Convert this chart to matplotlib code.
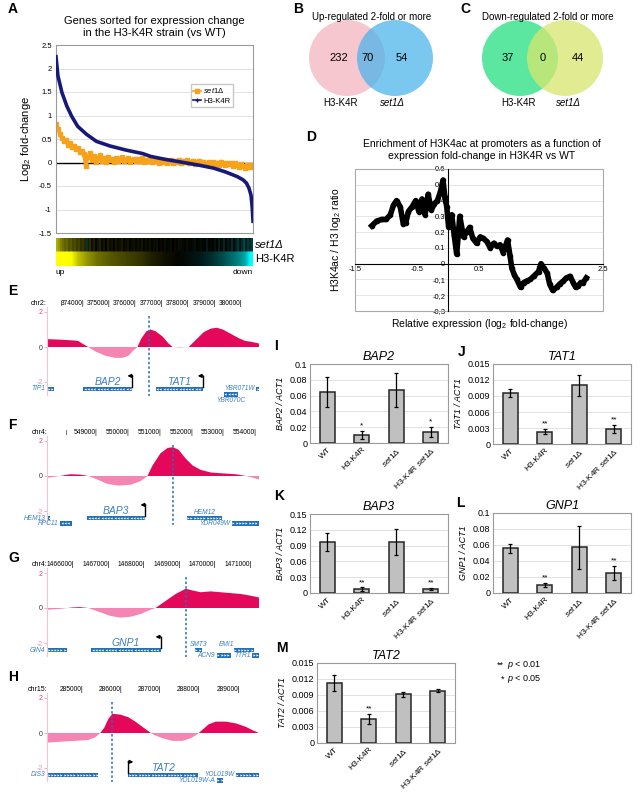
import matplotlib
matplotlib.use("Agg")
import matplotlib.pyplot as plt
import numpy as np
from matplotlib.colors import LinearSegmentedColormap, TwoSlopeNorm
from matplotlib.patches import Circle, Rectangle
from matplotlib.lines import Line2D

plt.rcParams["font.family"] = ["Liberation Sans", "DejaVu Sans"]
plt.rcParams["mathtext.fontset"] = "custom"
plt.rcParams["mathtext.rm"] = "Liberation Sans"
plt.rcParams["mathtext.it"] = "Liberation Sans:italic"
plt.rcParams["mathtext.bf"] = "Liberation Sans:bold"

W, H = 641, 794

# ---- A: sorted fold changes ----
h3_rank = [0.0, 0.01, 0.03, 0.055, 0.08, 0.11, 0.155, 0.205, 0.275, 0.36, 0.44, 0.48,
           0.55, 0.62, 0.73, 0.80, 0.86, 0.92, 0.95, 0.967, 0.98, 0.99, 0.996, 1.0]
h3_fc = [2.25, 1.84, 1.49, 1.2, 0.98, 0.77, 0.6, 0.45, 0.35, 0.26, 0.19, 0.13,
         0.07, 0.02, -0.06, -0.12, -0.2, -0.3, -0.37, -0.44, -0.55, -0.7, -0.95, -1.25]
set1_fc = [0.82, 0.72, 0.60, 0.52, 0.45, 0.48, 0.38, 0.42, 0.33, 0.36,
           0.28, 0.31, 0.22, 0.25, 0.18, -0.08, 0.12, 0.20, 0.06, 0.14,
           0.02, 0.10, 0.15, 0.04, 0.09, 0.01, 0.12, 0.05, 0.08, 0.02,
           0.10, 0.04, 0.07, 0.12, 0.03, 0.06, 0.09, 0.02, 0.05, 0.08,
           0.03, 0.07, 0.04, 0.09, 0.02, 0.06, 0.03, 0.08, 0.01, 0.05,
           0.03, 0.07, 0.00, 0.04, 0.02, 0.06, -0.01, 0.03, 0.05, 0.00,
           0.04, 0.02, 0.06, -0.02, 0.03, 0.01, 0.05, -0.01, 0.02, 0.04,
           -0.03, 0.01, 0.03, -0.02, 0.02, 0.00, -0.04, 0.02, -0.01, 0.01,
           -0.03, 0.00, -0.05, 0.02, -0.02, -0.06, 0.00, -0.04, -0.02, -0.07,
           -0.01, -0.05, -0.09, -0.03, -0.07, -0.11, -0.05, -0.09, -0.06, -0.10]

# ---- B, C: Venn counts ----
up_counts = [232, 70, 54]
down_counts = [37, 0, 44]

# ---- D: H3K4ac vs expression ----
d_x = [-1.23, -1.15, -1.07, -1.00, -0.93, -0.88, -0.83, -0.77, -0.72, -0.68, -0.64, -0.58,
       -0.52, -0.47, -0.42, -0.37, -0.32, -0.27, -0.22, -0.17, -0.12, -0.08, -0.05, -0.02,
       0.01, 0.06, 0.10, 0.14, 0.19, 0.25, 0.30, 0.35, 0.40, 0.46, 0.52, 0.57, 0.63, 0.68,
       0.74, 0.79, 0.84, 0.89, 0.96, 1.00, 1.03, 1.07, 1.11, 1.17, 1.22, 1.27, 1.33, 1.38,
       1.46, 1.50, 1.55, 1.60, 1.64, 1.69, 1.75, 1.80, 1.86, 1.91, 1.97, 2.02, 2.06, 2.10,
       2.14, 2.18, 2.23]
d_y = [0.24, 0.27, 0.28, 0.28, 0.31, 0.37, 0.40, 0.36, 0.25, 0.26, 0.33, 0.36,
       0.40, 0.33, 0.41, 0.31, 0.44, 0.34, 0.38, 0.40, 0.46, 0.53, 0.42, 0.36,
       0.23, 0.31, 0.18, 0.06, 0.30, 0.17, 0.20, 0.23, 0.16, 0.13, 0.17, 0.16, 0.14, 0.10,
       0.13, 0.11, 0.12, 0.07, 0.15, 0.05, -0.03, -0.07, -0.10, -0.15, -0.12, -0.11, -0.10, -0.08,
       -0.05, 0.00, -0.03, -0.06, -0.13, -0.17, -0.15, -0.13, -0.11, -0.09, -0.08, -0.12, -0.15, -0.14,
       -0.12, -0.12, -0.09]
d_yticklabels = ["-0,3", "-0,2", "-0,1", "0", "0.1", "0.2", "0.3", "0.4", "0.5", "0.6"]

# ---- E-H: genome browser tracks ----
e_pos = [372593, 373087, 373544, 373772, 373924, 374152, 374418, 374798, 375179, 375445,
         375673, 375863, 376015, 376167, 376357, 376510, 376700, 376966, 377194, 377346,
         377650, 377954, 378221, 378525, 378791, 379019, 379247, 379551, 379856, 380084,
         380312, 380616]
e_val = [0.45, 0.42, 0.38, 0.35, 0.2, 0.0, -0.25, -0.5, -0.62, -0.62,
         -0.5, -0.2, 0.0, 0.5, 0.9, 1.0, 0.9, 0.6, 0.2, 0.0,
         -0.03, 0.0, 0.4, 0.85, 1.05, 1.1, 1.0, 0.75, 0.5, 0.35,
         0.3, 0.2]
f_pos = [547428, 547836, 548151, 548465, 548717, 549000, 549314, 549660, 550038, 550352,
         550572, 550730, 550981, 551201, 551358, 551547, 551767, 551987, 552239, 552553,
         552931, 553340, 553654, 553874, 554063]
f_val = [-0.1, 0.0, 0.1, 0.08, 0.0, -0.2, -0.45, -0.55, -0.5, -0.3,
         0.0, 0.6, 1.3, 1.6, 1.65, 1.5, 1.0, 0.6, 0.35, 0.2,
         0.15, 0.1, 0.0, -0.1, -0.2]
g_pos = [1465237, 1465605, 1465944, 1466169, 1466395, 1466678, 1467017, 1467299, 1467582,
         1467864, 1468147, 1468288, 1468571, 1468853, 1469136, 1469333, 1469559, 1469842,
         1470124, 1470407, 1470689, 1470972, 1471198]
g_val = [-0.1, -0.05, 0.03, 0.05, 0.0, -0.2, -0.45, -0.55, -0.5,
         -0.35, -0.1, 0.0, 0.4, 0.8, 1.1, 1.0, 0.9, 0.95,
         0.9, 0.85, 0.8, 0.7, 0.6]
h_pos = [284077, 284410, 284795, 285128, 285308, 285436, 285538, 285641, 285744, 285949,
         286154, 286333, 286513, 286667, 286795, 287026, 287282, 287538, 287744, 287897,
         288051, 288205, 288385, 288641, 288897, 289154, 289333, 289487]
h_val = [-0.55, -0.5, -0.45, -0.4, -0.25, 0.0, 0.3, 0.8, 1.1, 1.05,
         0.9, 0.65, 0.35, 0.1, -0.1, -0.3, -0.45, -0.45, -0.3, -0.1,
         0.2, 0.5, 0.65, 0.65, 0.55, 0.35, 0.15, 0.0]

# genes: name, start, end, row, strand, label placement
e_genes = [("TIP1", 372593, 372860, 1, "+", "left"),
           ("BAP2", 373962, 375825, 1, "-", "main"),
           ("TAT1", 376700, 378487, 1, "-", "main"),
           ("YBR071W", 380502, 380616, 1, "+", "left"),
           ("YBR070C", 379285, 379817, 2, "-", "below")]
f_genes = [("HEM13", 547428, 547520, 1, "-", "left"),
           ("RPC11", 547836, 548214, 2, "-", "left"),
           ("BAP3", 548686, 550509, 1, "-", "main"),
           ("HEM12", 551799, 552899, 1, "+", "above"),
           ("YDR049W", 553214, 554063, 2, "+", "left")]
g_genes = [("GIN4", 1465237, 1465802, 1, "+", "left"),
           ("GNP1", 1466480, 1468429, 1, "-", "main"),
           ("SMT3", 1469390, 1469588, 1, "+", "above"),
           ("ACN9", 1470011, 1470407, 2, "+", "left"),
           ("EMI1", 1470492, 1471056, 1, "+", "aboveleft"),
           ("TTR1", 1471000, 1471198, 2, "+", "left")]
h_genes = [("DIS3", 284077, 285385, 1, "+", "left"),
           ("TAT2", 286154, 287923, 1, "+", "main"),
           ("YOL019W", 288897, 289487, 1, "+", "left"),
           ("YOL019W-A", 288410, 288564, 2, "+", "left")]

# ---- I-M: qPCR ----
strains = ["WT", "H3-K4R", r"$\mathit{set1Δ}$", r"H3-K4R $\mathit{set1Δ}$"]
bap2_mean = [0.065, 0.010, 0.067, 0.014]
bap2_err = [0.019, 0.005, 0.021, 0.006]
tat1_mean = [0.0096, 0.0023, 0.0110, 0.0028]
tat1_err = [0.0007, 0.0005, 0.0020, 0.0008]
bap3_mean = [0.097, 0.0076, 0.097, 0.0076]
bap3_err = [0.017, 0.003, 0.025, 0.002]
gnp1_mean = [0.056, 0.010, 0.057, 0.025]
gnp1_err = [0.0055, 0.003, 0.027, 0.009]
tat2_mean = [0.0113, 0.0045, 0.0091, 0.0098]
tat2_err = [0.0015, 0.0009, 0.0005, 0.0003]

fig = plt.figure(figsize=(W / 100, H / 100), dpi=100)


def add_ax(x0, y0, x1, y1):
    return fig.add_axes([x0 / W, 1 - y1 / H, (x1 - x0) / W, (y1 - y0) / H])


def ftext(x, y, s, **kw):
    fig.text(x / W, 1 - y / H, s, **kw)


for letter, (lx, ly) in {"A": (8, 9), "B": (293, 9), "C": (460, 9), "D": (306, 137),
                         "E": (8, 291), "F": (8, 425), "G": (8, 558), "H": (8, 677),
                         "I": (274, 346), "J": (458, 352), "K": (274, 496), "L": (456, 503),
                         "M": (276, 648)}.items():
    ftext(lx, ly, letter, fontsize=10, fontweight="bold", ha="left", va="center")

# ---------------- A ----------------
ftext(154, 27, "Genes sorted for expression change\nin the H3-K4R strain (vs WT)",
      ha="center", va="center", fontsize=8, linespacing=1.15)
ax = add_ax(56, 45, 253, 233)
ax.set_xlim(0, 1)
ax.set_ylim(-1.5, 2.5)
ax.set_yticks(np.arange(-1.5, 2.51, 0.5))
ax.set_yticklabels([f"{v:g}" for v in np.arange(-1.5, 2.51, 0.5)], fontsize=5.5)
ax.set_xticks([])
ax.tick_params(axis="y", length=0, pad=3)
ax.grid(axis="y", color="#dddddd", lw=0.6)
ax.set_axisbelow(True)
for s in ax.spines.values():
    s.set_color("#9a9a9a")
ax.axhline(0, color="black", lw=1, zorder=1)
set1_rank = np.linspace(0, 1, len(set1_fc))
ax.plot(set1_rank, set1_fc, color="#f7a21b", lw=2.6, marker="s", ms=3.2, zorder=2)
ax.plot(h3_rank, h3_fc, color="#17197a", lw=2.6, zorder=3)
ax.set_ylabel("Log$_2$ fold-change", fontsize=8, labelpad=4)
handles = [Line2D([0], [0], color="#f7a21b", lw=1.2, marker="s", ms=2.5),
           Line2D([0], [0], color="#17197a", lw=1.2, marker="+", ms=3)]
ax.legend(handles, [r"$\mathit{set1Δ}$", "H3-K4R"], loc="upper left",
          bbox_to_anchor=(0.665, 0.815), fontsize=5.5, frameon=True, fancybox=False,
          edgecolor="#bbbbbb", handlelength=1.0, borderpad=0.35, labelspacing=0.25,
          handletextpad=0.3)

cmap = LinearSegmentedColormap.from_list("yb", ["#00ffff", "#000000", "#ffff00"])
hax = add_ax(56, 238, 253, 266)
hax.pcolormesh(np.linspace(0, 1, len(set1_fc) + 1), [1, 2], [set1_fc], cmap=cmap,
               norm=TwoSlopeNorm(0, -0.4, 1.2), shading="flat")
hx = np.array([h3_rank, h3_rank])
hy = np.array([[0] * len(h3_rank), [1] * len(h3_rank)])
hax.pcolormesh(hx, hy, np.array([h3_fc, h3_fc]), cmap=cmap,
               norm=TwoSlopeNorm(0, -0.6, 1.0), shading="gouraud")
hax.set_xlim(0, 1)
hax.set_ylim(0, 2)
hax.axis("off")
ftext(255, 245, "set1Δ", fontsize=8, fontstyle="italic", va="center")
ftext(255, 259, "H3-K4R", fontsize=8, va="center")
ftext(56, 272, "up", fontsize=6, va="center")
ftext(253, 272, "down", fontsize=6, va="center", ha="right")

# ---------------- B, C ----------------
vax = add_ax(290, 0, 641, 115)
vax.set_xlim(290, 641)
vax.set_ylim(115, 0)
vax.axis("off")
for cx, col, a in [(347, "#f5b5c0", 0.75), (395, "#47b3ea", 0.72),
                   (520, "#3ee38f", 0.85), (565, "#d7e66e", 0.75)]:
    vax.add_patch(Circle((cx, 58), 38, color=col, alpha=a, lw=0))
for cx, n in zip([339, 368, 402], up_counts):
    vax.text(cx, 58, str(n), ha="center", va="center", fontsize=8)
for cx, n in zip([508, 543, 578], down_counts):
    vax.text(cx, 58, str(n), ha="center", va="center", fontsize=8)
ftext(372, 17, "Up-regulated 2-fold or more", ha="center", va="center", fontsize=7)
ftext(548, 17, "Down-regulated 2-fold or more", ha="center", va="center", fontsize=7)
ftext(341, 103, "H3-K4R", ha="center", va="center", fontsize=7)
ftext(392, 103, "set1Δ", ha="center", va="center", fontsize=7, fontstyle="italic")
ftext(519, 103, "H3-K4R", ha="center", va="center", fontsize=7)
ftext(568, 103, "set1Δ", ha="center", va="center", fontsize=7, fontstyle="italic")

# ---------------- D ----------------
ftext(482, 150, "Enrichment of H3K4ac at promoters as a function of\n"
      "expression fold-change in H3K4R vs WT", ha="center", va="center",
      fontsize=7.5, linespacing=1.15)
dax = add_ax(355, 169, 603, 311)
dax.set_xlim(-1.5, 2.5)
dax.set_ylim(-0.3, 0.6)
dax.spines["left"].set_position(("data", 0))
dax.spines["bottom"].set_position(("data", 0))
dax.spines["top"].set_visible(False)
dax.spines["right"].set_visible(False)
dax.add_patch(Rectangle((0, 0), 1, 1, transform=dax.transAxes, fill=False,
                        ec="#aaaaaa", lw=0.8, clip_on=False))
dax.set_yticks(np.linspace(-0.3, 0.6, len(d_yticklabels)))
dax.set_yticklabels(d_yticklabels, fontsize=5.5)
dax.set_xticks([-1.5, -0.5, 0.5, 1.5, 2.5])
dax.set_xticklabels(["-1.5", "-0.5", "0.5", "1.5", "2.5"], fontsize=5.5)
dax.tick_params(length=0, pad=2)
dax.grid(axis="y", color="#e0e0e0", lw=0.6)
dax.set_axisbelow(True)
dax.plot(d_x, d_y, color="black", lw=4, marker="o", ms=3, zorder=5)
ftext(480, 324, "Relative expression (log$_2$ fold-change)", ha="center", va="center",
      fontsize=7.5)
ftext(336, 240, "H3K4ac / H3 log$_2$ ratio", ha="center", va="center", fontsize=7.5,
      rotation=90)

# ---------------- E-H ----------------
S = 17.5


def draw_track(y0, xlim, chrom, ticks, lone, pos, val, dash, genes):
    tax = add_ax(47, y0 - 50, 259, y0 + 55)
    tax.set_xlim(*xlim)
    tax.set_ylim(-55 / S, 50 / S)
    for side in ["top", "right", "bottom"]:
        tax.spines[side].set_visible(False)
    tax.spines["left"].set_color("#f6c4d0")
    tax.spines["left"].set_bounds(-2.75, 2.3)
    tax.set_xticks([])
    tax.set_yticks([2, 0, -2])
    tax.set_yticklabels(["2", "0", "-2"], fontsize=5)
    tax.tick_params(axis="y", length=2, width=0.6, color="#f0a0b8", pad=1)
    for lab, c in zip(tax.get_yticklabels(), ["#e8407a", "#333333", "#f090b0"]):
        lab.set_color(c)
    pos = np.array(pos)
    val = np.array(val)
    tax.fill_between(pos, val, 0, where=val >= 0, interpolate=True, color="#e3085a", lw=0)
    tax.fill_between(pos, val, 0, where=val <= 0, interpolate=True, color="#f585b2", lw=0)
    tax.plot([dash, dash], [1.75, -2.8], color="#2c6db5", lw=1.1, ls=(0, (1.6, 1.4)))
    tax.text(0, 2.51, chrom, transform=tax.get_yaxis_transform(), ha="right",
             va="center", fontsize=5)
    if lone is not None:
        tax.text(lone, 2.51, "|", ha="center", va="center", fontsize=4)
    for t in ticks:
        tax.text(t, 2.51, f"{t}|", ha="right", va="center", fontsize=4.8)
    span = xlim[1] - xlim[0]
    step = span / 211 * 3.2
    for name, g0, g1, row, strand, place in genes:
        yv = -2.4 if row == 1 else -2.7
        tax.add_patch(Rectangle((g0, yv - 0.13), g1 - g0, 0.26, color="#2270b8", lw=0))
        xs = np.arange(g0 + step / 2, g1 - step / 3, step)
        tax.plot(xs, [yv] * len(xs), ls="none", marker="<" if strand == "-" else ">",
                 ms=1.6, mew=0, color="white")
        if place == "main":
            tax.text((g0 + g1) / 2, -2.02, name, ha="center", va="center", fontsize=7.5,
                     fontstyle="italic", color="#3b7fc4")
            tss = g1 if strand == "-" else g0
            d = -span / 211 * 5 if strand == "-" else span / 211 * 5
            tax.plot([tss, tss], [yv + 0.13, -1.65], color="black", lw=1)
            tax.annotate("", xy=(tss + d, -1.65), xytext=(tss - d * 0.05, -1.65),
                         arrowprops=dict(arrowstyle="-|>", lw=1, color="black",
                                         mutation_scale=5, shrinkA=0, shrinkB=0))
        elif place == "left":
            tax.text(g0 - span / 211 * 1.5, yv, name, ha="right", va="center",
                     fontsize=4.8, fontstyle="italic", color="#3b7fc4")
        elif place == "above":
            tax.text((g0 + g1) / 2, -2.08, name, ha="center", va="center",
                     fontsize=4.8, fontstyle="italic", color="#3b7fc4")
        elif place == "aboveleft":
            tax.text(g0, -2.08, name, ha="right", va="center",
                     fontsize=4.8, fontstyle="italic", color="#3b7fc4")
        elif place == "below":
            tax.text((g0 + g1) / 2, -3.05, name, ha="center", va="center",
                     fontsize=4.8, fontstyle="italic", color="#3b7fc4")


draw_track(347, (372593, 380616), "chr2:",
           [374000, 375000, 376000, 377000, 378000, 379000, 380000], 373120,
           e_pos, e_val, 376470, e_genes)
draw_track(476, (547428, 554063), "chr4:",
           [549000, 550000, 551000, 552000, 553000, 554000], 548020,
           f_pos, f_val, 551358, f_genes)
draw_track(608, (1465237, 1471198), "chr4:",
           [1466000, 1467000, 1468000, 1469000, 1470000, 1471000], None,
           g_pos, g_val, 1469136, g_genes)
draw_track(733, (284077, 289487), "chr15:",
           [285000, 286000, 287000, 288000, 289000], None,
           h_pos, h_val, 285744, h_genes)

# ---------------- I-M ----------------


def bar_panel(x0, y0, x1, y1, gene, means, errs, ymax, step, stars):
    bax = add_ax(x0, y0, x1, y1)
    xs = np.arange(len(means))
    bax.bar(xs, means, width=0.43, color="#c0c0c0", edgecolor="#262626", lw=1.1, zorder=3)
    bax.errorbar(xs, means, yerr=errs, fmt="none", ecolor="black", elinewidth=0.9,
                 capsize=1.5, capthick=0.9, zorder=4)
    bax.set_xlim(-0.5, 3.5)
    bax.set_ylim(0, ymax)
    ticks = np.arange(0, ymax + step / 2, step)
    bax.set_yticks(ticks)
    bax.set_yticklabels([f"{v:g}" for v in ticks], fontsize=6.5)
    bax.set_xticks(xs)
    bax.set_xticklabels(strains, rotation=45, ha="right", rotation_mode="anchor",
                        fontsize=6)
    bax.tick_params(length=0, pad=2)
    bax.grid(axis="y", color="#dddddd", lw=0.6, zorder=0)
    bax.set_axisbelow(True)
    for s in bax.spines.values():
        s.set_color("#9a9a9a")
    for i, st in enumerate(stars):
        if st:
            bax.annotate(st, (i, means[i] + errs[i]), xytext=(0, 1),
                         textcoords="offset points", ha="center", va="bottom", fontsize=6)
    bax.set_title(gene, fontstyle="italic", fontsize=9, pad=3)
    bax.set_ylabel(f"{gene} / ACT1", fontstyle="italic", fontsize=6.5, labelpad=3)
    return bax


bar_panel(310, 364, 448, 443, "BAP2", bap2_mean, bap2_err, 0.1, 0.02, ["", "*", "", "*"])
bar_panel(493, 364, 631, 444, "TAT1", tat1_mean, tat1_err, 0.015, 0.003, ["", "**", "", "**"])
bar_panel(310, 514, 448, 593, "BAP3", bap3_mean, bap3_err, 0.15, 0.03, ["", "**", "", "**"])
bar_panel(493, 513, 631, 593, "GNP1", gnp1_mean, gnp1_err, 0.1, 0.02, ["", "**", "", "**"])
bar_panel(317, 663, 455, 743, "TAT2", tat2_mean, tat2_err, 0.015, 0.003, ["", "**", "", ""])

ftext(504, 665, "**", ha="right", va="center", fontsize=6.5)
ftext(507, 665, "$\\mathit{p}$ < 0.01", ha="left", va="center", fontsize=6.5)
ftext(504, 679, "*", ha="right", va="center", fontsize=6.5)
ftext(507, 679, "$\\mathit{p}$ < 0.05", ha="left", va="center", fontsize=6.5)

fig.savefig("out.png", dpi=100)
